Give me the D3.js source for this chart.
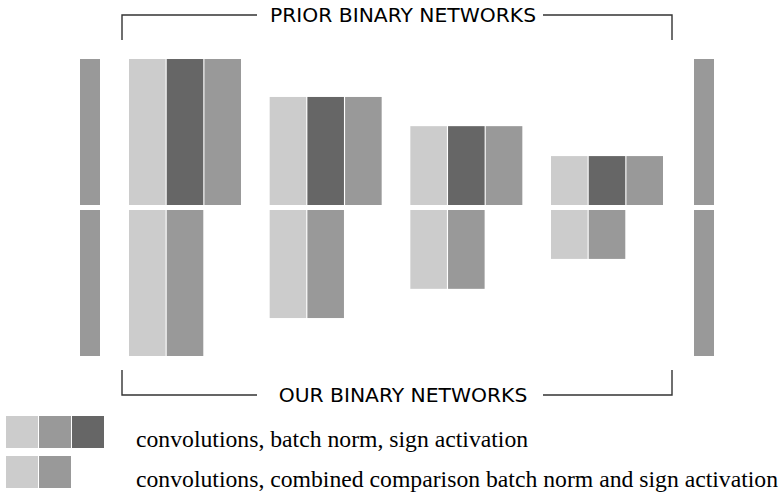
<!DOCTYPE html>
<html>
<head>
<meta charset="utf-8">
<script src="https://cdn.jsdelivr.net/npm/d3@7"></script>
<style>
  body { margin: 0; background: #fff; }
  svg { display: block; }
</style>
</head>
<body>
<div id="chart"></div>
<script>
// relative size of the feature maps per layer (input/output are full size)
const layers = ['layer1', 'layer2', 'layer3', 'layer4'];
const layerSize = [1.0, 0.74, 0.54, 0.335];
const endSize = 1.0;
const priorOps = ['conv', 'bn', 'sign'];
const ourOps = ['conv', 'cmp'];
const opColor = {conv: '#cccccc', bn: '#666666', sign: '#999999', cmp: '#999999'};
const legendRows = [
  {ops: ['conv', 'sign', 'bn'], label: 'convolutions, batch norm, sign activation'},
  {ops: ['conv', 'cmp'], label: 'convolutions, combined comparison batch norm and sign activation'}
];
const topLabel = 'PRIOR BINARY NETWORKS';
const bottomLabel = 'OUR BINARY NETWORKS';

const width = 782;
const height = 494;
const midTop = 205;
const midBottom = 210;

const svg = d3.select('#chart').append('svg')
  .attr('width', width)
  .attr('height', height);

const h = d3.scaleLinear().domain([0, 1]).range([0, 146]);
const x = d3.scaleLinear().domain([0, layers.length - 1]).range([129, 551]);
const op = d3.scaleBand().domain(priorOps).range([0, 112]).paddingInner(0.03);

// input / output bars
const ends = [80, 694];
const endG = svg.append('g');
ends.forEach(ex => {
  endG.append('rect')
    .attr('x', ex).attr('y', midTop - h(endSize))
    .attr('width', 20).attr('height', h(endSize))
    .attr('fill', '#999999');
  endG.append('rect')
    .attr('x', ex).attr('y', midBottom)
    .attr('width', 20).attr('height', h(endSize))
    .attr('fill', '#999999');
});

// prior networks (top)
const priorG = svg.append('g').selectAll('g')
  .data(layers)
  .join('g')
  .attr('transform', (d, i) => `translate(${x(i)},0)`);
priorG.selectAll('rect')
  .data((d, i) => priorOps.map(o => ({o, s: layerSize[i]})))
  .join('rect')
  .attr('x', d => op(d.o))
  .attr('y', d => midTop - h(d.s))
  .attr('width', op.bandwidth())
  .attr('height', d => h(d.s))
  .attr('fill', d => opColor[d.o]);

// our networks (bottom)
const ourG = svg.append('g').selectAll('g')
  .data(layers)
  .join('g')
  .attr('transform', (d, i) => `translate(${x(i)},0)`);
ourG.selectAll('rect')
  .data((d, i) => ourOps.map((o, j) => ({o, j, s: layerSize[i]})))
  .join('rect')
  .attr('x', d => op(priorOps[d.j]))
  .attr('y', midBottom)
  .attr('width', op.bandwidth())
  .attr('height', d => h(d.s))
  .attr('fill', d => opColor[d.o]);

// brackets
function bracket(yLine, yEnd, label) {
  const g = svg.append('g')
    .attr('fill', 'none')
    .attr('stroke', '#333')
    .attr('stroke-width', 1.4);
  g.append('path').attr('d', `M122,${yEnd}V${yLine}H257`);
  g.append('path').attr('d', `M543,${yLine}H672V${yEnd}`);
  svg.append('text')
    .attr('x', 403)
    .attr('y', yLine)
    .attr('dy', '0.35em')
    .attr('text-anchor', 'middle')
    .attr('font-family', 'DejaVu Sans, sans-serif')
    .attr('font-size', 20.3)
    .attr('fill', '#000')
    .text(label);
}
bracket(15, 40, topLabel);
bracket(395, 370, bottomLabel);

// legend
const legend = svg.append('g').selectAll('g')
  .data(legendRows)
  .join('g')
  .attr('transform', (d, i) => `translate(6,${416 + i * 40})`);
legend.selectAll('rect')
  .data(d => d.ops)
  .join('rect')
  .attr('x', (d, i) => i * 33)
  .attr('y', 0)
  .attr('width', 32)
  .attr('height', 32)
  .attr('fill', d => opColor[d]);
legend.append('text')
  .attr('x', 130)
  .attr('y', 30.5)
  .attr('font-family', 'Liberation Serif, Times New Roman, serif')
  .attr('font-size', 23.7)
  .attr('fill', '#000')
  .text(d => d.label);
</script>
</body>
</html>
